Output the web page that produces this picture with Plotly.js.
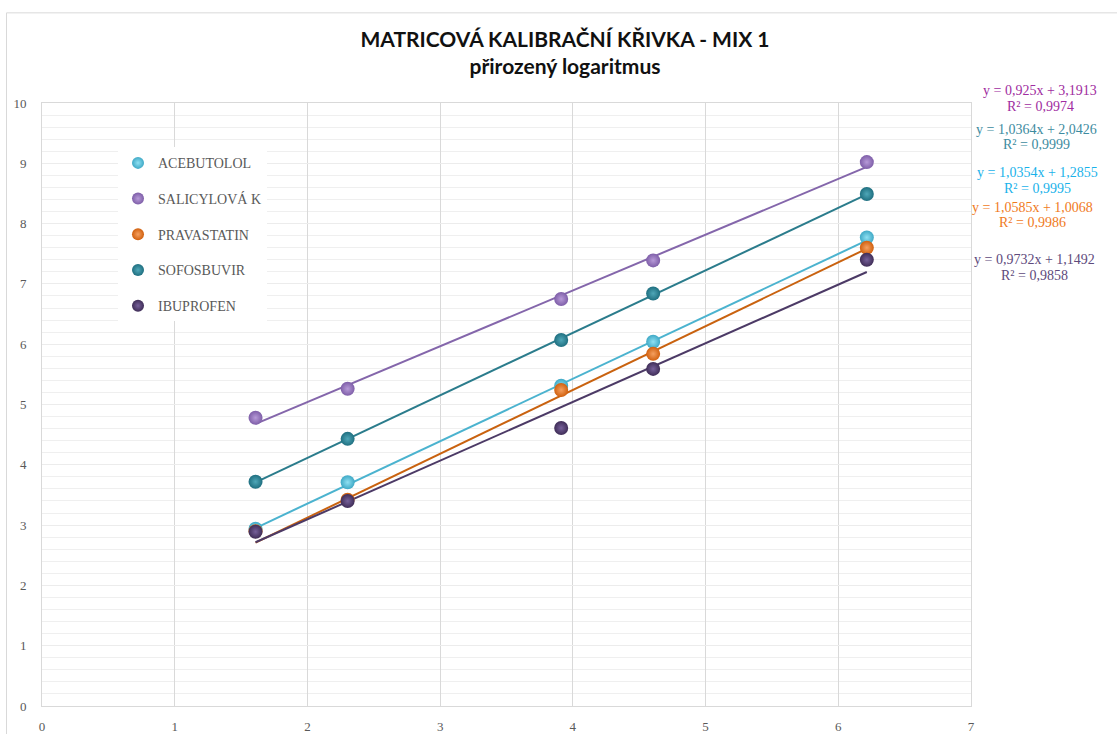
<!DOCTYPE html>
<html>
<head>
<meta charset="utf-8">
<script src="https://cdn.plot.ly/plotly-3.0.1.min.js"></script>
<style>
  html, body { margin: 0; padding: 0; background: #ffffff; }
  #chart { width: 1117px; height: 734px; }
</style>
</head>
<body>
<div id="chart"></div>
<script>
// ln(concentration) levels shared by every compound
const lnConc = [1.609, 2.303, 3.912, 4.605, 6.215];

const compounds = ['ACEBUTOLOL', 'SALICYLOVÁ K', 'PRAVASTATIN', 'SOFOSBUVIR', 'IBUPROFEN'];

// ln(response) for each compound
const acebutolol = [2.94, 3.71, 5.31, 6.04, 7.77];
const salicylova = [4.78, 5.26, 6.75, 7.39, 9.02];
const pravastatin = [2.90, 3.42, 5.24, 5.84, 7.60];
const sofosbuvir = [3.72, 4.43, 6.07, 6.84, 8.49];
const ibuprofen = [2.89, 3.40, 4.61, 5.59, 7.40];

// linear fits: slope, intercept, R²
const slopes = [1.0354, 0.925, 1.0585, 1.0364, 0.9732];
const intercepts = [1.2855, 3.1913, 1.0068, 2.0426, 1.1492];
const rSquared = [0.9995, 0.9974, 0.9986, 0.9999, 0.9858];

const seriesValues = [acebutolol, salicylova, pravastatin, sofosbuvir, ibuprofen];

// styling per compound
const markerColors = ['#3fa9c6', '#7e5ea8', '#d1600e', '#1f6f80', '#3f2d57'];
const highlightColors = ['#8fe0f2', '#b79ad8', '#f5a060', '#4fa7b8', '#76609a'];
const lineColors = ['#4bb3cf', '#8466ab', '#c9620f', '#2b7c8c', '#4c3a66'];
const eqColors = ['#19b2ea', '#a02ca0', '#f07a1c', '#3d8ba0', '#5e4a7c'];
// equation label rows (pixel centres) in chart coordinates
const eqRows = [
  { x: 1037, y1: 172, y2: 188 },
  { x: 1040, y1: 90, y2: 106 },
  { x: 1032, y1: 207, y2: 222 },
  { x: 1036, y1: 129, y2: 144 },
  { x: 1034, y1: 259, y2: 275 }
];

const fmt = (v) => String(v).replace('.', ',');

const plotLeft = 42, plotRight = 971, plotTop = 102.7, plotBottom = 706;
const W = 1117, H = 734;
const px2x = (px) => (px - plotLeft) / (plotRight - plotLeft);
const py2y = (py) => (plotBottom - py) / (plotBottom - plotTop);

const traces = [];
const xFirst = lnConc[0], xLast = lnConc[lnConc.length - 1];

// trend lines first so markers sit on top
compounds.forEach((name, i) => {
  traces.push({
    x: [xFirst, xLast],
    y: [slopes[i] * xFirst + intercepts[i], slopes[i] * xLast + intercepts[i]],
    type: 'scatter',
    mode: 'lines',
    line: { color: lineColors[i], width: 2 },
    showlegend: false,
    hoverinfo: 'skip'
  });
});

compounds.forEach((name, i) => {
  traces.push({
    x: lnConc,
    y: seriesValues[i],
    name: name,
    legendgroup: name,
    type: 'scatter',
    mode: 'markers',
    marker: {
      size: 14,
      color: markerColors[i],
      gradient: { type: 'radial', color: highlightColors[i] },
      line: { width: 0 }
    }
  });
});

const annotations = [];
compounds.forEach((name, i) => {
  const r = eqRows[i];
  annotations.push({
    xref: 'paper', yref: 'paper',
    x: px2x(r.x), y: py2y(r.y1),
    xanchor: 'center', yanchor: 'middle',
    text: 'y = ' + fmt(slopes[i]) + 'x + ' + fmt(intercepts[i]),
    showarrow: false,
    font: { family: 'Liberation Serif, serif', size: 14, color: eqColors[i] }
  });
  annotations.push({
    xref: 'paper', yref: 'paper',
    x: px2x(r.x), y: py2y(r.y2),
    xanchor: 'center', yanchor: 'middle',
    text: 'R² = ' + fmt(rSquared[i]),
    showarrow: false,
    font: { family: 'Liberation Serif, serif', size: 14, color: eqColors[i] }
  });
});

const tickFont = { family: 'Liberation Serif, serif', size: 13, color: '#595959' };

const layout = {
  width: W,
  height: H,
  paper_bgcolor: '#ffffff',
  plot_bgcolor: '#ffffff',
  margin: { l: plotLeft, r: W - plotRight, t: plotTop, b: H - plotBottom, pad: 0 },
  title: {
    text: '<b>MATRICOVÁ KALIBRAČNÍ KŘIVKA - MIX 1</b><br><b>přirozený logaritmus</b>',
    font: { family: 'Lato, Open Sans, sans-serif', size: 21, color: '#111111' },
    xref: 'container', yref: 'container',
    x: 565 / W, xanchor: 'center',
    y: 1 - 47 / H, yanchor: 'top'
  },
  xaxis: {
    range: [0, 7],
    dtick: 1,
    tick0: 0,
    showgrid: true,
    gridcolor: '#d9d9d9',
    gridwidth: 1,
    zeroline: false,
    showline: true,
    linecolor: '#d9d9d9',
    linewidth: 1,
    mirror: true,
    ticks: '',
    ticklabelstandoff: 8,
    tickfont: tickFont,
    fixedrange: true
  },
  yaxis: {
    range: [0, 10],
    dtick: 1,
    tick0: 0,
    showgrid: true,
    gridcolor: '#ececec',
    gridwidth: 1,
    minor: { dtick: 0.2, showgrid: true, gridcolor: '#efefef', gridwidth: 1 },
    zeroline: false,
    showline: true,
    linecolor: '#d9d9d9',
    linewidth: 1,
    mirror: true,
    ticks: '',
    ticklabelstandoff: 12,
    tickfont: tickFont,
    fixedrange: true
  },
  legend: {
    x: px2x(118), y: py2y(147),
    xanchor: 'left', yanchor: 'top',
    bgcolor: '#ffffff',
    borderwidth: 0,
    itemwidth: 30,
    itemsizing: 'constant',
    tracegroupgap: 14.5,
    font: { family: 'Liberation Serif, serif', size: 14, color: '#595959' }
  },
  annotations: annotations,
  shapes: [{
    type: 'rect', xref: 'paper', yref: 'paper',
    x0: px2x(6.5), x1: px2x(1140),
    y0: py2y(760), y1: py2y(12.5),
    line: { color: '#d9d9d9', width: 1 },
    fillcolor: 'rgba(0,0,0,0)',
    layer: 'above'
  }],
  showlegend: true,
  hovermode: false
};

Plotly.newPlot('chart', traces, layout, { displayModeBar: false, staticPlot: true });
</script>
</body>
</html>
